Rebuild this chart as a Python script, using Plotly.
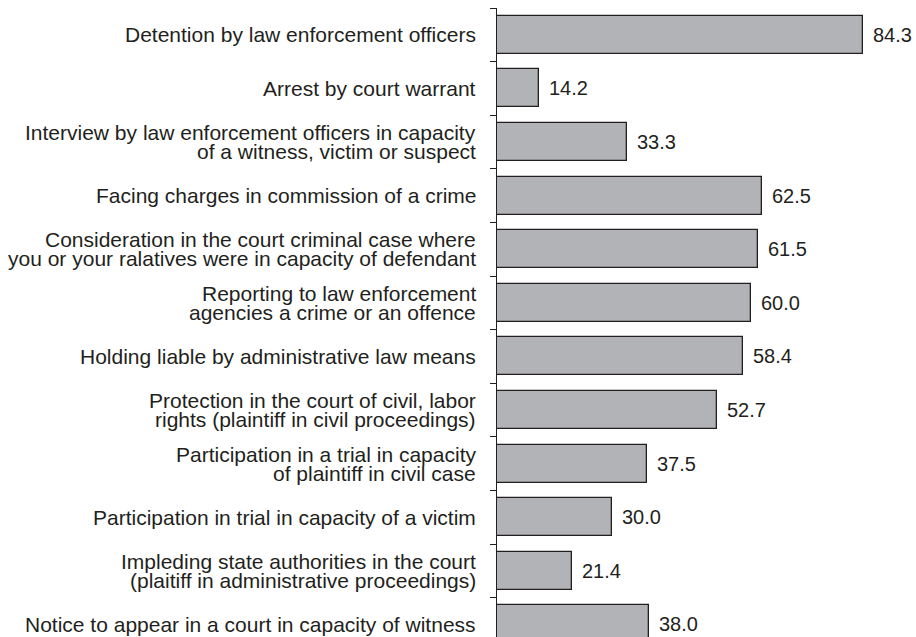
import plotly.graph_objects as go

categories = [
    "Detention by law enforcement officers",
    "Arrest by court warrant",
    "Interview by law enforcement officers in capacity\nof a witness, victim or suspect",
    "Facing charges in commission of a crime",
    "Consideration in the court criminal case where\nyou or your ralatives were in capacity of defendant",
    "Reporting to law enforcement\nagencies a crime or an offence",
    "Holding liable by administrative law means",
    "Protection in the court of civil, labor\nrights (plaintiff in civil proceedings)",
    "Participation in a trial in capacity\nof plaintiff in civil case",
    "Participation in trial in capacity of a victim",
    "Impleding state authorities in the court\n(plaitiff in administrative proceedings)",
    "Notice to appear in a court in capacity of witness",
]
values = [84.3, 14.2, 33.3, 62.5, 61.5, 60.0, 58.4, 52.7, 37.5, 30.0, 21.4, 38.0]

positions = list(range(len(categories)))
TEXT = "#231f20"
FONT = "Liberation Sans, Arial, sans-serif"

W, H = 916, 637
LEFT = 497
TOP = 8

fig = go.Figure()
fig.add_trace(go.Bar(
    x=values, y=positions, orientation="h", base=0,
    width=0.71,
    marker=dict(color="#b2b3b6", line=dict(color=TEXT, width=1.3)),
    hoverinfo="skip",
))

annotations = []
line_gap = 19
for i, (cat, v) in enumerate(zip(categories, values)):
    lines = cat.split("\n")
    n = len(lines)
    for k, ln in enumerate(lines):
        shift = ((n - 1) / 2 - k) * line_gap
        annotations.append(dict(
            x=0, xref="paper", y=i, yref="y", xanchor="right", yanchor="middle",
            xshift=-19, yshift=shift, text=ln, showarrow=False,
            font=dict(family=FONT, size=21, color=TEXT),
        ))
    annotations.append(dict(
        x=v, xref="x", y=i, yref="y", xanchor="left", yanchor="middle",
        xshift=8, text=f"{v:.1f}", showarrow=False,
        font=dict(family=FONT, size=20, color=TEXT),
    ))

row_px = 53.6
plot_h = H - TOP
fig.update_layout(
    width=W, height=H,
    margin=dict(l=LEFT, r=0, t=TOP, b=0, pad=0),
    paper_bgcolor="white", plot_bgcolor="white",
    showlegend=False,
    annotations=annotations,
    bargap=0,
)
plot_w = W - LEFT
fig.update_xaxes(range=[5.11, 5.11 + plot_w / 4.622], visible=False, showgrid=False, zeroline=False)
fig.update_yaxes(
    range=[-0.5 + plot_h / row_px, -0.5],
    tickvals=[p - 0.5 for p in positions],
    ticktext=["" for _ in positions],
    ticks="outside", ticklen=6, tickwidth=1.3, tickcolor=TEXT,
    showline=True, linecolor=TEXT, linewidth=1.3,
    showgrid=False, zeroline=False,
)

fig.write_html(
    "out.html",
    config={"displayModeBar": False},
    post_script="document.body.style.margin='0';document.body.style.overflow='hidden';",
)
